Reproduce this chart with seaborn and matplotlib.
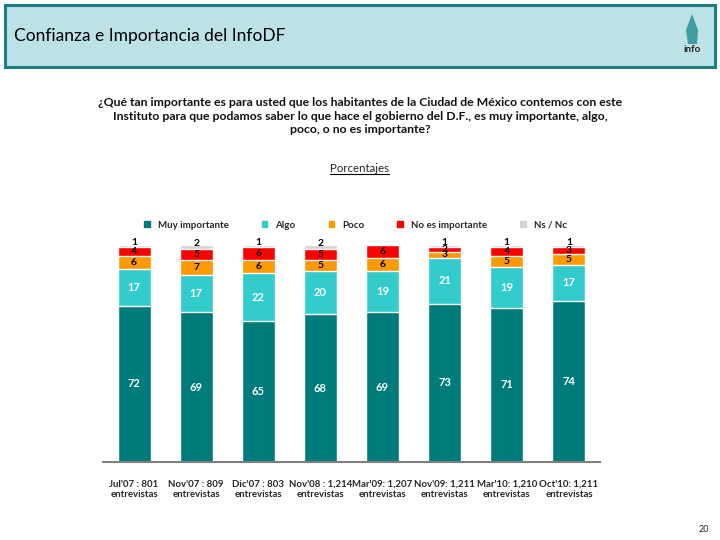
import matplotlib
matplotlib.use('Agg')
import matplotlib.pyplot as plt
import matplotlib.patches as mpatches
from matplotlib.lines import Line2D
import seaborn as sns
import numpy as np
import pandas as pd

periodos = ["Jul'07 : 801\nentrevistas", "Nov'07 : 809\nentrevistas", "Dic'07 : 803\nentrevistas",
            "Nov'08 : 1,214\nentrevistas", "Mar'09: 1,207\nentrevistas", "Nov'09: 1,211\nentrevistas",
            "Mar'10: 1,210\nentrevistas", "Oct'10: 1,211\nentrevistas"]
series = ["Muy importante", "Algo", "Poco", "No es importante", "Ns / Nc"]
muy_importante = [72, 69, 65, 68, 69, 73, 71, 74]
algo = [17, 17, 22, 20, 19, 21, 19, 17]
poco = [6, 7, 6, 5, 6, 3, 5, 5]
no_es_importante = [4, 5, 6, 5, 6, 2, 4, 3]
ns_nc = [1, 2, 1, 2, 0, 1, 1, 1]

colores = ['#007B7B', '#33CCCC', '#FF9900', '#FF0000', '#D3D3D3']
color_texto = ['white', 'white', 'black', 'black', 'black']

sns.set_style('white')
plt.rcParams['font.family'] = ['Lato', 'DejaVu Sans']

valores = np.array([muy_importante, algo, poco, no_es_importante, ns_nc])
acumulado = valores.cumsum(axis=0)

fig = plt.figure(figsize=(7.2, 5.4), dpi=100)

# encabezado
fig.patches.append(mpatches.Rectangle((5 / 720, 1 - 67 / 540), 710 / 720, 62 / 540,
                                      transform=fig.transFigure, facecolor='#BCE2E5',
                                      edgecolor='#1D7E80', linewidth=2.2, zorder=0))
fig.text(14 / 720, 1 - 36 / 540, 'Confianza e Importancia del InfoDF', fontsize=12.5,
         va='center', ha='left', color='black')
fig.text(692 / 720, 1 - 50 / 540, 'info', fontsize=7, fontweight='bold', ha='center',
         va='center', color='#222222')
fig.patches.append(mpatches.Polygon([(688 / 720, 1 - 44 / 540), (686 / 720, 1 - 30 / 540),
                                     (692 / 720, 1 - 14 / 540), (698 / 720, 1 - 30 / 540),
                                     (697 / 720, 1 - 44 / 540)],
                                    transform=fig.transFigure, facecolor='#3E9EA3',
                                    edgecolor='none'))

pregunta = ("¿Qué tan importante es para usted que los habitantes de la Ciudad de México contemos con este\n"
            "Instituto para que podamos saber lo que hace el gobierno del D.F., es muy importante, algo,\n"
            "poco, o no es importante?")
fig.text(0.5, 1 - 116 / 540, pregunta, ha='center', va='center', fontsize=8.8,
         fontweight='bold', linespacing=1.3, color='#111111')
fig.text(0.5, 1 - 168 / 540, 'Porcentajes', ha='center', va='center', fontsize=8.3)
fig.lines.append(Line2D([330 / 720, 389 / 720], [1 - 174 / 540, 1 - 174 / 540],
                        transform=fig.transFigure, color='black', linewidth=0.8))
fig.text(704 / 720, 1 - 529 / 540, '20', ha='center', va='center', fontsize=6.5)

ax = fig.add_axes([103 / 720, 1 - 462 / 540, 497 / 720, 217 / 540])

# barras apiladas: de la mas alta a la mas baja
for i in range(len(series) - 1, -1, -1):
    df = pd.DataFrame({'periodo': periodos, 'valor': acumulado[i]})
    sns.barplot(data=df, x='periodo', y='valor', color=colores[i], width=0.53,
                saturation=1, ax=ax, label=series[i])

# etiquetas de valores
for i in range(len(series)):
    for j in range(len(periodos)):
        v = valores[i, j]
        if v == 0:
            continue
        centro = acumulado[i, j] - v / 2
        tam = 8 if i < 2 else 7.5
        if i == len(series) - 1:
            centro += 1.8
        ax.text(j, centro, str(v), ha='center', va='center', fontsize=tam,
                fontweight='bold', color=color_texto[i], clip_on=False)

ax.set_xlim(-0.5, len(periodos) - 0.5)
ax.set_ylim(0, 100)
ax.set_xlabel('')
ax.set_ylabel('')
ax.set_yticks([])
for s in ['top', 'right', 'left']:
    ax.spines[s].set_visible(False)
ax.spines['bottom'].set_color('#7F7F7F')
ax.spines['bottom'].set_linewidth(1.5)
ax.set_xticks(np.arange(-0.5, len(periodos), 1), minor=True)
ax.tick_params(axis='x', which='minor', length=4, width=1.2, color='#7F7F7F', direction='out')
ax.tick_params(axis='x', which='major', length=0, pad=13, labelsize=6.9)
for t in ax.get_xticklabels():
    t.set_fontweight('bold')

handles = [mpatches.Patch(color=c) for c in colores]
leg = ax.legend(handles, series, loc='center', bbox_to_anchor=(0.508, 1 + 20 / 217), ncol=5,
                frameon=False, fontsize=7, handlelength=0.6, handleheight=0.6,
                columnspacing=3.4, handletextpad=0.8)
for t in leg.get_texts():
    t.set_fontweight('bold')

fig.savefig('out.png', dpi=100)
